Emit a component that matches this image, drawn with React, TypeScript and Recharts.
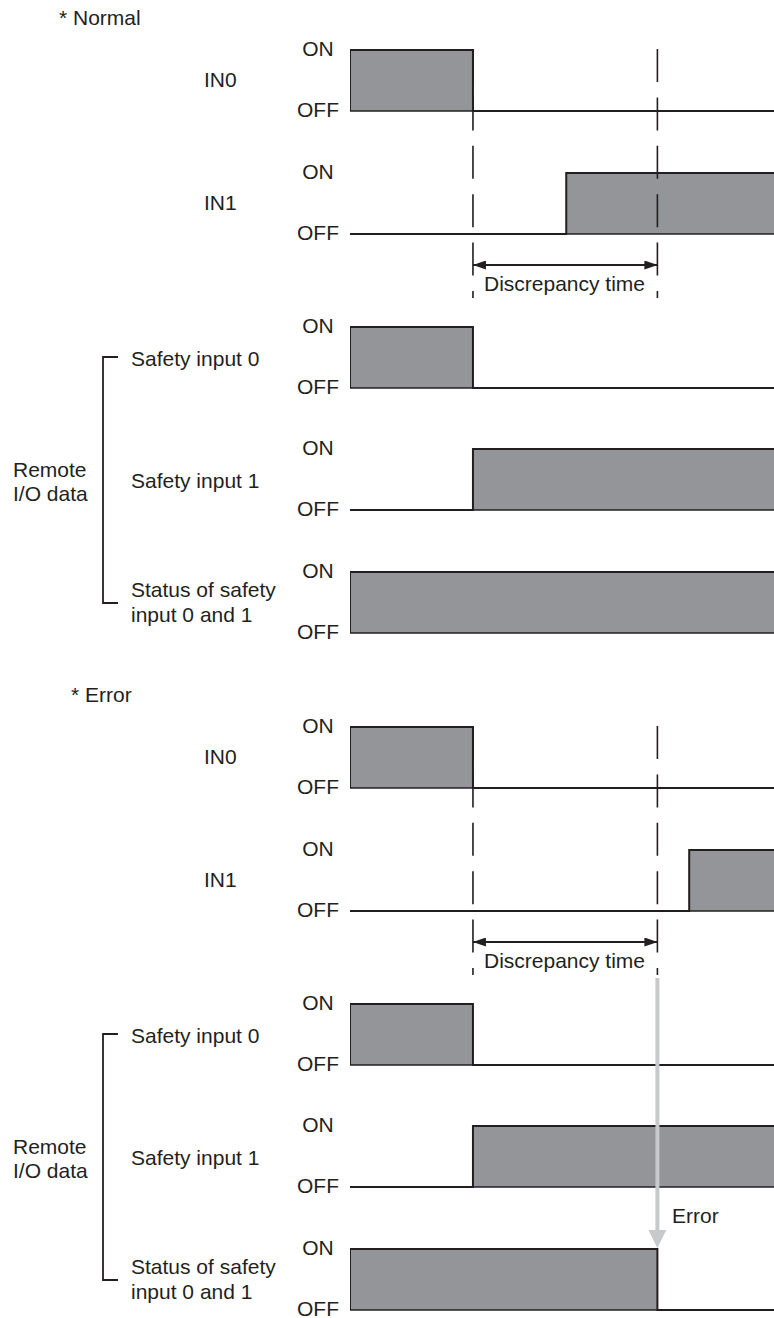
import React from 'react';
import { ComposedChart, Area, XAxis, YAxis, ReferenceLine } from 'recharts';

// ---------- data ----------
const TIME_DOMAIN: [number, number] = [0, 100];
const SECTION_TITLES = ['* Normal', '* Error'];
const SIGNAL_NAMES = [['IN0'], ['IN1'], ['Safety input 0'], ['Safety input 1'], ['Status of safety', 'input 0 and 1']];
const GROUP_LABEL = ['Remote', 'I/O data'];
const STATE_LABELS = ['OFF', 'ON'];
const DISCREPANCY_LABEL = 'Discrepancy time';
const ERROR_LABEL = 'Error';
const DISCREPANCY_START = 29;
const DISCREPANCY_END = 72.5;

// signal traces: t = time, v = 0 (OFF) / 1 (ON)
const normalIN0 = [{ t: 0, v: 0 }, { t: 0, v: 1 }, { t: 29, v: 0 }, { t: 100, v: 0 }];
const normalIN1 = [{ t: 0, v: 0 }, { t: 51, v: 1 }, { t: 100, v: 1 }];
const normalSafety0 = [{ t: 0, v: 0 }, { t: 0, v: 1 }, { t: 29, v: 0 }, { t: 100, v: 0 }];
const normalSafety1 = [{ t: 0, v: 0 }, { t: 29, v: 1 }, { t: 100, v: 1 }];
const normalStatus = [{ t: 0, v: 0 }, { t: 0, v: 1 }, { t: 100, v: 1 }];

const errorIN0 = [{ t: 0, v: 0 }, { t: 0, v: 1 }, { t: 29, v: 0 }, { t: 100, v: 0 }];
const errorIN1 = [{ t: 0, v: 0 }, { t: 80, v: 1 }, { t: 100, v: 1 }];
const errorSafety0 = [{ t: 0, v: 0 }, { t: 0, v: 1 }, { t: 29, v: 0 }, { t: 100, v: 0 }];
const errorSafety1 = [{ t: 0, v: 0 }, { t: 29, v: 1 }, { t: 100, v: 1 }];
const errorStatus = [{ t: 0, v: 0 }, { t: 0, v: 1 }, { t: 72.5, v: 0 }, { t: 100, v: 0 }];

const SECTION_SIGNALS = [
  [normalIN0, normalIN1, normalSafety0, normalSafety1, normalStatus],
  [errorIN0, errorIN1, errorSafety0, errorSafety1, errorStatus],
];
const TIME_MARKS = [{ t: 0 }, { t: 100 }];

// ---------- layout / style ----------
const W = 774;
const H = 1318;
const PLOT_LEFT = 350;
const SECTION_TOPS = [50, 727];
const ROW_OFFSETS = [0, 123, 277, 399, 522];
const ROW_H = 61;
const PAD = 16;
const OV_H = 530;
const FONT = '"Liberation Sans", Arial, Helvetica, sans-serif';
const FS = 21;
const INK = '#231f20';
const FILL = '#939598';
const ARROW_GRAY = '#c8c9cb';

const StateTick = (props: any) => {
  const { x, y, payload } = props;
  return (
    <text x={x} y={y} dy={6} textAnchor="middle" fontFamily={FONT} fontSize={FS} fill={INK}>
      {STATE_LABELS[payload.value]}
    </text>
  );
};

function SignalRow({ data, top }: { data: { t: number; v: number }[]; top: number }) {
  return (
    <div style={{ position: 'absolute', left: 0, top: top - PAD }}>
      <ComposedChart width={W} height={ROW_H + 2 * PAD} data={data} margin={{ top: PAD, right: 0, bottom: PAD, left: 0 }}>
        <XAxis type="number" dataKey="t" domain={TIME_DOMAIN} hide allowDataOverflow />
        <YAxis
          type="number"
          domain={[0, 1]}
          ticks={[0, 1]}
          interval={0}
          width={PLOT_LEFT}
          axisLine={false}
          tickLine={false}
          tickMargin={26}
          tick={StateTick}
        />
        <Area
          type="stepAfter"
          dataKey="v"
          stroke={INK}
          strokeWidth={2}
          fill={FILL}
          fillOpacity={1}
          dot={false}
          activeDot={false}
          isAnimationActive={false}
        />
        <ReferenceLine y={0} stroke={INK} strokeWidth={1.6} />
      </ComposedChart>
    </div>
  );
}

function Overlay({ top, showError }: { top: number; showError: boolean }) {
  return (
    <div style={{ position: 'absolute', left: 0, top, pointerEvents: 'none' }}>
      <ComposedChart width={W} height={OV_H} data={TIME_MARKS} margin={{ top: 0, right: 0, bottom: 0, left: PLOT_LEFT }}>
        <XAxis type="number" dataKey="t" domain={TIME_DOMAIN} hide allowDataOverflow />
        <YAxis type="number" domain={[0, OV_H]} reversed hide allowDataOverflow />
        {[DISCREPANCY_START, DISCREPANCY_END].map((t) => (
          <ReferenceLine
            key={t}
            segment={[{ x: t, y: 0 }, { x: t, y: 249 }]}
            stroke={INK}
            strokeWidth={1.6}
            strokeDasharray="33 15.4"
            ifOverflow="visible"
          />
        ))}
        <ReferenceLine
          segment={[{ x: DISCREPANCY_START, y: 216 }, { x: DISCREPANCY_END, y: 216 }]}
          ifOverflow="visible"
          shape={(p: any) => (
            <line
              x1={p.x1}
              y1={p.y1}
              x2={p.x2}
              y2={p.y2}
              stroke={INK}
              strokeWidth={1.8}
              markerStart="url(#arrowBlack)"
              markerEnd="url(#arrowBlack)"
            />
          )}
        />
        {showError && (
          <ReferenceLine
            segment={[{ x: DISCREPANCY_END, y: 252 }, { x: DISCREPANCY_END, y: 504 }]}
            ifOverflow="visible"
            shape={(p: any) => (
              <line
                x1={p.x1}
                y1={p.y1}
                x2={p.x2}
                y2={p.y2}
                stroke={ARROW_GRAY}
                strokeWidth={4}
                markerEnd="url(#arrowGray)"
              />
            )}
          />
        )}
      </ComposedChart>
    </div>
  );
}

function Labels() {
  const t = { fontFamily: FONT, fontSize: FS, fill: INK } as const;
  return (
    <svg width={W} height={H} style={{ position: 'absolute', left: 0, top: 0 }}>
      {SECTION_TOPS.map((st, s) => (
        <g key={s}>
          <text x={s === 0 ? 59 : 71} y={st - 25} {...t}>{SECTION_TITLES[s]}</text>
          <text x={204} y={st + ROW_OFFSETS[0] + 37} {...t}>{SIGNAL_NAMES[0][0]}</text>
          <text x={204} y={st + ROW_OFFSETS[1] + 37} {...t}>{SIGNAL_NAMES[1][0]}</text>
          <text x={131} y={st + ROW_OFFSETS[2] + 39} {...t}>{SIGNAL_NAMES[2][0]}</text>
          <text x={131} y={st + ROW_OFFSETS[3] + 39} {...t}>{SIGNAL_NAMES[3][0]}</text>
          <text x={131} y={st + ROW_OFFSETS[4] + 25} {...t}>{SIGNAL_NAMES[4][0]}</text>
          <text x={131} y={st + ROW_OFFSETS[4] + 50} {...t}>{SIGNAL_NAMES[4][1]}</text>
          <text x={13} y={st + 427} {...t}>{GROUP_LABEL[0]}</text>
          <text x={13} y={st + 451} {...t}>{GROUP_LABEL[1]}</text>
          <path d={`M118,${st + 307} H103 V${st + 553} H118`} fill="none" stroke={INK} strokeWidth={1.8} />
          <text x={564.5} y={st + 241} textAnchor="middle" {...t}>{DISCREPANCY_LABEL}</text>
        </g>
      ))}
      <text x={672} y={SECTION_TOPS[1] + 496} {...t}>{ERROR_LABEL}</text>
    </svg>
  );
}

export default function App() {
  return (
    <div style={{ position: 'absolute', left: 0, top: 0, width: W, height: H, background: '#fff', overflow: 'hidden' }}>
      <svg width={0} height={0} style={{ position: 'absolute' }}>
        <defs>
          <marker id="arrowBlack" viewBox="0 0 13 9" markerWidth={13} markerHeight={9} refX={13} refY={4.5} markerUnits="userSpaceOnUse" orient="auto-start-reverse">
            <path d="M0,0 L13,4.5 L0,9 z" fill={INK} />
          </marker>
          <marker id="arrowGray" viewBox="0 0 18 18" markerWidth={18} markerHeight={18} refX={0} refY={9} markerUnits="userSpaceOnUse" orient="auto">
            <path d="M0,0 L18,9 L0,18 z" fill={ARROW_GRAY} />
          </marker>
        </defs>
      </svg>
      <Labels />
      {SECTION_TOPS.map((st, s) =>
        SECTION_SIGNALS[s].map((d, r) => <SignalRow key={`${s}-${r}`} data={d} top={st + ROW_OFFSETS[r]} />)
      )}
      {SECTION_TOPS.map((st, s) => (
        <Overlay key={`ov-${s}`} top={st - 1} showError={s === 1} />
      ))}
    </div>
  );
}
